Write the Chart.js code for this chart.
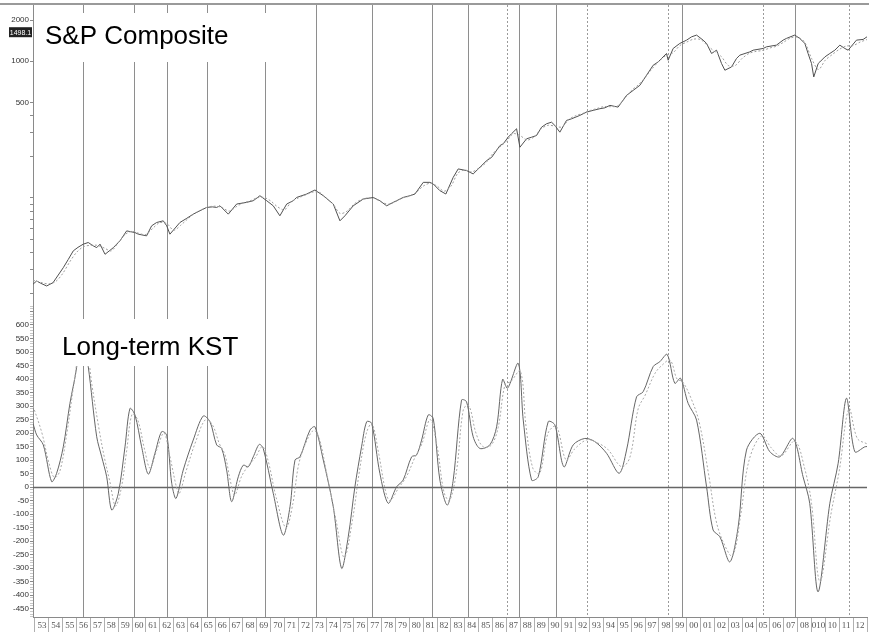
<!DOCTYPE html>
<html>
<head>
<meta charset="utf-8">
<script src="https://cdn.jsdelivr.net/npm/chart.js@4.4.0/dist/chart.umd.min.js"></script>
<style>
  body { margin: 0; background: #fff; }
  #quadro { position: relative; width: 869px; height: 632px; }
  canvas { position: absolute; left: 0; }
</style>
</head>
<body>
<div id="quadro">
  <canvas id="grafico-sp" width="869" height="306" style="top:0"></canvas>
  <canvas id="grafico-kst" width="869" height="327" style="top:305px"></canvas>
</div>
<script>
let chartInstances = {};

// Rótulos do eixo X (anos)
const rotulosAnos = ['53','54','55','56','57','58','59','60','61','62','63','64','65','66','67','68','69',
  '70','71','72','73','74','75','76','77','78','79','80','81','82','83','84','85','86','87','88','89',
  '90','91','92','93','94','95','96','97','98','99','00','01','02','03','04','05','06','07','08','010',
  '10','11','12'];

// Linhas verticais (anos)
const linhasSolidas = [1956.48, 1960.12, 1962.50, 1965.38, 1969.58, 1973.24, 1977.32, 1981.66,
  1984.24, 1987.87, 1990.56, 1999.67, 2007.84];
const linhasTracejadas = [1987.05, 1992.78, 1998.66, 2005.51, 2011.71];

// S&P Composite
const spAnos = [1952.86, 1953.12, 1953.4, 1953.84, 1954.3, 1955.04, 1955.4, 1955.76, 1956.1, 1956.48,
  1956.84, 1957.2, 1957.45, 1957.69, 1958.05, 1958.65, 1959.13, 1959.61, 1960.21, 1960.45, 1961.05,
  1961.41, 1961.77, 1962.25, 1962.5, 1962.73, 1963.45, 1963.9, 1964.41, 1964.9, 1965.38, 1965.8,
  1966.1, 1966.34, 1966.94, 1967.54, 1968.26, 1968.74, 1969.22, 1969.71, 1970.18, 1970.66, 1971.15,
  1971.62, 1971.87, 1972.59, 1973.19, 1973.79, 1974.51, 1974.99, 1975.35, 1975.95, 1976.67, 1977.39,
  1977.87, 1978.36, 1978.83, 1979.08, 1979.55, 1980.04, 1980.4, 1981.0, 1981.48, 1981.72, 1982.2,
  1982.63, 1983.16, 1983.52, 1984.13, 1984.6, 1985.57, 1985.93, 1986.53, 1986.77, 1987.12, 1987.37,
  1987.73, 1987.97, 1988.45, 1988.81, 1989.17, 1989.53, 1989.89, 1990.25, 1990.49, 1990.85, 1991.33,
  1991.69, 1992.29, 1992.77, 1993.25, 1993.74, 1994.1, 1994.46, 1995.05, 1995.66, 1996.14, 1996.62,
  1997.1, 1997.58, 1997.94, 1998.54, 1998.66, 1999.02, 1999.5, 1999.99, 2000.35, 2000.71, 2001.18,
  2001.43, 2001.79, 2002.15, 2002.51, 2002.75, 2003.23, 2003.59, 2003.83, 2004.55, 2004.79, 2005.51,
  2005.75, 2006.47, 2006.95, 2007.19, 2007.79, 2008.15, 2008.52, 2008.75, 2009.0, 2009.16, 2009.48,
  2009.6, 2009.96, 2010.32, 2010.68, 2011.04, 2011.4, 2011.64, 2012.24, 2012.72, 2013.0];
const spValores = [23.4, 24.7, 23.8, 22.7, 24.0, 30.9, 35.5, 41.0, 43.5, 45.9,
  47.2, 44.6, 43.3, 45.9, 38.7, 43.3, 48.6, 57.4, 55.8, 54.3, 52.8,
  62.5, 66.1, 68.0, 62.5, 54.3, 66.1, 70.5, 76.1, 80.6, 85.2, 86.0,
  85.2, 87.6, 76.1, 90.2, 92.8, 95.4, 103.8, 95.4, 87.6, 74.0, 90.2,
  95.4, 100.8, 106.8, 114.3, 103.8, 90.2, 68.0, 74.0, 87.6, 98.1, 100.8,
  95.4, 87.6, 92.8, 95.4, 100.8, 103.8, 106.8, 130, 130, 126.5, 113,
  106.8, 141.4, 163, 158.4, 149.8, 187.5, 198, 241.6, 249, 278, 295,
  320.6, 234.8, 270.7, 278, 286.2, 329, 348.8, 358, 339, 302.6, 368.9,
  379, 401.3, 424.3, 437, 449.4, 456, 475.3, 461.7, 562.7, 612, 666.4,
  789, 934.6, 988, 1139, 1017, 1239, 1349, 1426, 1508, 1552, 1426,
  1349, 1139, 1204, 962, 859, 908, 1047, 1107, 1170, 1204, 1239,
  1274, 1311, 1426, 1468, 1552, 1468, 1349, 1139, 962, 767, 962,
  988, 1075, 1139, 1204, 1311, 1239, 1204, 1426, 1443, 1508];

// Média do S&P (linha pontilhada)
const spMediaAnos = [1952.86, 1953.5, 1954.0, 1954.5, 1955.0, 1955.5, 1956.0, 1956.5, 1957.0, 1957.5,
  1958.0, 1958.5, 1959.0, 1959.5, 1960.0, 1960.5, 1961.0, 1961.5, 1962.0, 1962.5, 1963.0, 1963.5,
  1964.0, 1964.5, 1965.0, 1965.5, 1966.0, 1966.5, 1967.0, 1967.5, 1968.0, 1968.5, 1969.0, 1969.5,
  1970.0, 1970.5, 1971.0, 1971.5, 1972.0, 1972.5, 1973.0, 1973.5, 1974.0, 1974.5, 1975.0, 1975.5,
  1976.0, 1976.5, 1977.0, 1977.5, 1978.0, 1978.5, 1979.0, 1979.5, 1980.0, 1980.5, 1981.0, 1981.5,
  1982.0, 1982.5, 1983.0, 1983.5, 1984.0, 1984.5, 1985.0, 1985.5, 1986.0, 1986.5, 1987.0, 1987.5,
  1988.0, 1988.5, 1989.0, 1989.5, 1990.0, 1990.5, 1991.0, 1991.5, 1992.0, 1992.5, 1993.0, 1993.5,
  1994.0, 1994.5, 1995.0, 1995.5, 1996.0, 1996.5, 1997.0, 1997.5, 1998.0, 1998.5, 1999.0, 1999.5,
  2000.0, 2000.5, 2001.0, 2001.5, 2002.0, 2002.5, 2003.0, 2003.5, 2004.0, 2004.5, 2005.0, 2005.5,
  2006.0, 2006.5, 2007.0, 2007.5, 2008.0, 2008.5, 2009.0, 2009.5, 2010.0, 2010.5, 2011.0, 2011.5,
  2012.0, 2012.5, 2013.0];
const spMediaValores = [25, 24, 23.5, 24.5, 28, 34, 40, 44, 45, 45,
  43, 41, 47, 54, 57, 55, 54, 60, 66, 65, 58, 63,
  70, 77, 82, 86, 87, 85, 80, 86, 92, 95, 100, 101,
  95, 86, 82, 94, 100, 105, 110, 110, 100, 90, 77, 80,
  90, 97, 100, 99, 93, 90, 94, 100, 103, 110, 122, 128,
  122, 112, 122, 152, 160, 155, 165, 180, 210, 235, 260, 295,
  285, 265, 280, 320, 340, 335, 330, 375, 400, 415, 435, 450,
  465, 465, 470, 530, 610, 670, 760, 880, 1000, 1100, 1150, 1300,
  1380, 1450, 1440, 1300, 1180, 1080, 930, 930, 1050, 1140, 1180, 1200,
  1250, 1290, 1380, 1480, 1500, 1380, 1050, 870, 1020, 1120, 1220, 1290,
  1300, 1380, 1440];

const spTicks = [2000, 1000, 500, 400, 300, 200, 100, 90, 80, 70, 60, 50, 40, 30, 20];
const spRotulos = [2000, 1000, 500];
const spUltimo = 1498.1;

// Long-term KST
const kstAnos = [1952.86, 1953.12, 1953.6, 1954.2, 1954.56, 1955.04, 1955.52, 1956.01, 1956.28, 1956.84,
  1957.45, 1957.81, 1958.17, 1958.53, 1959.01, 1959.49, 1959.85, 1960.21, 1960.69, 1961.17, 1961.65,
  1962.13, 1962.5, 1962.86, 1963.17, 1963.69, 1964.41, 1965.13, 1965.62, 1966.1, 1966.46, 1966.82,
  1967.18, 1967.66, 1968.02, 1968.38, 1968.74, 1969.17, 1969.46, 1970.18, 1970.9, 1971.39, 1971.75,
  1972.11, 1972.83, 1973.19, 1973.79, 1974.51, 1975.11, 1975.59, 1976.07, 1976.55, 1976.92, 1977.28,
  1977.87, 1978.47, 1979.08, 1979.55, 1980.16, 1980.52, 1980.88, 1981.36, 1981.72, 1982.2, 1982.73,
  1983.16, 1983.76, 1984.12, 1984.6, 1985.08, 1985.8, 1986.29, 1986.72, 1987.08, 1987.85, 1988.21,
  1988.81, 1989.29, 1990.01, 1990.49, 1991.14, 1991.81, 1992.65, 1993.38, 1994.22, 1995.13, 1995.66,
  1996.38, 1996.86, 1997.58, 1998.06, 1998.59, 1999.14, 1999.55, 2000.1, 2000.71, 2001.43, 2001.9,
  2002.39, 2003.11, 2003.71, 2004.31, 2005.27, 2005.99, 2006.71, 2007.67, 2008.39, 2008.87, 2009.47,
  2010.32, 2010.92, 2011.52, 2012.12, 2012.84, 2013.0];
const kstValores = [235, 193, 156, 20, 51, 149, 310, 446, 620, 446,
  186, 112, 38, -85, -23, 149, 291, 267, 149, 48, 125,
  205, 193, 14, -42, 63, 174, 263, 242, 156, 143, 63,
  -54, 38, 81, 75, 112, 158, 143, -23, -178, -73, 100,
  112, 211, 223, 100, -73, -301, -184, 1, 149, 242, 236,
  51, -60, 1, 26, 112, 119, 174, 267, 254, 26, -67,
  26, 322, 316, 186, 143, 156, 223, 399, 366, 458, 248,
  26, 38, 242, 230, 75, 156, 180, 168, 125, 51, 137,
  334, 353, 446, 464, 491, 384, 403, 310, 248, 1, -159,
  -184, -277, -147, 137, 199, 131, 112, 180, 38, -60, -388,
  -60, 88, 329, 131, 149, 150];

// KST pontilhado (sinal)
const kstSinalAnos = [1952.86, 1953.5, 1954.0, 1954.4, 1954.8, 1955.3, 1955.8, 1956.5, 1957.1, 1957.6,
  1958.0, 1958.4, 1958.8, 1959.2, 1959.6, 1960.0, 1960.4, 1960.9, 1961.3, 1961.8, 1962.3, 1962.7,
  1963.2, 1963.4, 1963.9, 1964.6, 1965.3, 1965.8, 1966.3, 1966.7, 1967.1, 1967.4, 1967.9, 1968.4,
  1968.9, 1969.4, 1969.8, 1970.4, 1971.1, 1971.6, 1972.0, 1972.5, 1973.1, 1973.5, 1974.0, 1974.7,
  1975.3, 1975.9, 1976.4, 1976.9, 1977.3, 1977.8, 1978.3, 1978.6, 1979.2, 1979.8, 1980.4, 1980.9,
  1981.5, 1982.0, 1982.5, 1982.9, 1983.4, 1983.9, 1984.3, 1984.8, 1985.3, 1985.9, 1986.4, 1986.9,
  1987.3, 1988.0, 1988.4, 1988.9, 1989.4, 1990.0, 1990.6, 1991.3, 1991.9, 1992.8, 1993.5, 1994.3,
  1995.3, 1995.9, 1996.5, 1997.0, 1997.7, 1998.2, 1998.8, 1999.3, 1999.7, 2000.3, 2000.9, 2001.6,
  2002.1, 2002.6, 2003.3, 2003.9, 2004.5, 2005.4, 2006.1, 2006.8, 2007.8, 2008.5, 2009.0, 2009.6,
  2010.4, 2011.0, 2011.7, 2012.3, 2013.0];
const kstSinalValores = [300, 200, 90, 35, 60, 200, 380, 600, 380, 220,
  110, 20, -70, -10, 130, 270, 250, 140, 70, 140, 200, 120,
  0, -25, 60, 170, 250, 230, 160, 120, 20, -30, 40, 80,
  110, 150, 100, -40, -150, -60, 80, 160, 210, 180, 60, -120,
  -260, -120, 60, 200, 235, 120, -20, -50, -5, 40, 110, 160,
  250, 150, -20, -50, 60, 290, 300, 200, 150, 155, 220, 380,
  390, 430, 230, 70, 50, 200, 225, 100, 140, 175, 165, 140,
  75, 110, 290, 340, 420, 450, 470, 400, 390, 330, 240, 40,
  -120, -200, -255, -100, 100, 190, 145, 115, 170, 70, -60, -350,
  -100, 60, 290, 180, 160];

const kstRotulos = [600, 550, 500, 450, 400, 350, 300, 250, 200, 150, 100, 50, 0,
  -50, -100, -150, -200, -250, -300, -350, -400, -450];

function pontos(anos, valores) {
  return anos.map((a, i) => ({ x: a, y: valores[i] }));
}

const fonteEixo = { family: 'Liberation Sans Narrow, Liberation Sans, Arial', size: 8 };

// tira o espaço extra que o Chart.js reserva para o primeiro/último rótulo
function semFolgaVertical(scale, largura) {
  scale.width = largura;
  scale.paddingTop = 0;
  scale.paddingBottom = 0;
}

// Linhas verticais, moldura e caixas de título
const decoracao = {
  id: 'decoracao',
  beforeDatasetsDraw(chart, args, opts) {
    const { ctx, chartArea, scales } = chart;
    ctx.save();
    ctx.lineWidth = 1;
    ctx.strokeStyle = '#8e8e8e';
    linhasSolidas.forEach(ano => {
      const x = Math.round(scales.x.getPixelForValue(ano)) + 0.5;
      ctx.beginPath();
      ctx.moveTo(x, chartArea.top);
      ctx.lineTo(x, chartArea.bottom);
      ctx.stroke();
    });
    ctx.strokeStyle = '#9a9a9a';
    ctx.setLineDash([2, 2]);
    linhasTracejadas.forEach(ano => {
      const x = Math.round(scales.x.getPixelForValue(ano)) + 0.5;
      ctx.beginPath();
      ctx.moveTo(x, chartArea.top);
      ctx.lineTo(x, chartArea.bottom);
      ctx.stroke();
    });
    ctx.setLineDash([]);
    if (opts.linhaZero) {
      const y = Math.round(scales.y.getPixelForValue(0)) + 0.5;
      ctx.strokeStyle = '#666';
      ctx.lineWidth = 1.5;
      ctx.beginPath();
      ctx.moveTo(chartArea.left, y);
      ctx.lineTo(chartArea.right, y);
      ctx.stroke();
    }
    if (opts.moldura) {
      ctx.strokeStyle = '#9a9a9a';
      ctx.lineWidth = 2;
      ctx.beginPath();
      ctx.moveTo(0, chartArea.top - 1);
      ctx.lineTo(chart.width, chartArea.top - 1);
      ctx.stroke();
    }
    ctx.restore();
  },
  afterDraw(chart, args, opts) {
    const { ctx, scales } = chart;
    ctx.save();
    const c = opts.caixa;
    ctx.fillStyle = '#fff';
    ctx.fillRect(c.x, c.y, c.w, c.h);
    ctx.fillStyle = '#000';
    ctx.font = '26px "Liberation Sans", Arial, sans-serif';
    ctx.textBaseline = 'alphabetic';
    ctx.fillText(c.texto, c.tx, c.ty);
    if (opts.ultimo) {
      const y = scales.y.getPixelForValue(opts.ultimo) - 5;
      ctx.fillStyle = '#222';
      ctx.fillRect(9, y - 5, 23, 10);
      ctx.fillStyle = '#fff';
      ctx.font = '7px "Liberation Sans Narrow", "Liberation Sans", Arial';
      ctx.textAlign = 'center';
      ctx.textBaseline = 'middle';
      ctx.fillText(String(opts.ultimo), 20.5, y + 0.5);
    }
    ctx.restore();
  }
};

const eixoX = {
  type: 'linear',
  min: 1952.856,
  max: 2013.0,
  afterBuildTicks: (scale) => {
    scale.ticks = rotulosAnos.map((r, i) => ({ value: 1953 + i })).concat([{ value: 2013 }]);
  }
};

function inserirGraficos() {
  // Gráfico de cima: S&P Composite (escala logarítmica)
  chartInstances['grafico-sp'] = new Chart(document.getElementById('grafico-sp').getContext('2d'), {
    type: 'line',
    data: {
      datasets: [{
        data: pontos(spMediaAnos, spMediaValores),
        borderColor: '#9d9d9d',
        borderWidth: 1,
        borderDash: [2, 2],
        tension: 0.3
      }, {
        data: pontos(spAnos, spValores),
        borderColor: '#505050',
        borderWidth: 1,
        tension: 0
      }]
    },
    options: {
      responsive: false,
      animation: false,
      layout: { padding: { top: 5, right: 2, left: 0, bottom: 0 } },
      elements: { point: { radius: 0 } },
      plugins: {
        legend: { display: false },
        tooltip: { enabled: false },
        decoracao: {
          moldura: true,
          ultimo: spUltimo,
          caixa: { x: 35, y: 13, w: 242, h: 49, texto: 'S&P Composite', tx: 45, ty: 44 }
        }
      },
      scales: {
        x: Object.assign({ display: false }, eixoX),
        y: {
          type: 'logarithmic',
          min: 16.2,
          max: 2577,
          afterFit: (scale) => semFolgaVertical(scale, 33),
          afterBuildTicks: (scale) => { scale.ticks = spTicks.map(v => ({ value: v })); },
          border: { color: '#8a8a8a', width: 1 },
          grid: { drawOnChartArea: false, tickLength: 3, color: '#8a8a8a' },
          ticks: {
            font: fonteEixo,
            color: '#333',
            padding: 1,
            autoSkip: false,
            callback: (v) => spRotulos.includes(v) ? String(v) : ''
          }
        }
      }
    },
    plugins: [decoracao]
  });

  // Gráfico de baixo: Long-term KST
  chartInstances['grafico-kst'] = new Chart(document.getElementById('grafico-kst').getContext('2d'), {
    type: 'line',
    data: {
      datasets: [{
        data: pontos(kstSinalAnos, kstSinalValores),
        borderColor: '#a8a8a8',
        borderWidth: 1,
        borderDash: [2, 2],
        tension: 0.35
      }, {
        data: pontos(kstAnos, kstValores),
        borderColor: '#666',
        borderWidth: 1,
        tension: 0.3
      }]
    },
    options: {
      responsive: false,
      animation: false,
      layout: { padding: { top: 0, right: 2, left: 0, bottom: 0 } },
      elements: { point: { radius: 0 } },
      plugins: {
        legend: { display: false },
        tooltip: { enabled: false },
        decoracao: {
          linhaZero: true,
          caixa: { x: 35, y: 14, w: 205, h: 47, texto: 'Long-term KST', tx: 62, ty: 50 }
        }
      },
      scales: {
        x: Object.assign({
          afterFit: (scale) => { scale.height = 15; },
          border: { color: '#8a8a8a', width: 1 },
          grid: { drawOnChartArea: false, tickLength: 15, color: '#b0b0b0' },
          ticks: {
            font: { family: 'Liberation Serif, Times New Roman, serif', size: 9 },
            color: '#555',
            padding: -12,
            labelOffset: 6.93,
            autoSkip: false,
            maxRotation: 0,
            minRotation: 0,
            callback: (v) => rotulosAnos[Math.round(v) - 1953] || ''
          }
        }, eixoX),
        y: {
          type: 'linear',
          min: -481,
          max: 674,
          afterFit: (scale) => semFolgaVertical(scale, 33),
          afterBuildTicks: (scale) => {
            const t = [];
            for (let v = 670; v >= -480; v -= 10) t.push({ value: v });
            scale.ticks = t;
          },
          border: { color: '#8a8a8a', width: 1 },
          grid: {
            drawOnChartArea: false,
            tickLength: 3,
            color: (c) => (c.tick && c.tick.value % 50 === 0) ? '#8a8a8a' : '#c8c8c8'
          },
          ticks: {
            font: fonteEixo,
            color: '#333',
            padding: 1,
            autoSkip: false,
            callback: (v) => kstRotulos.includes(v) ? String(v) : ''
          }
        }
      }
    },
    plugins: [decoracao]
  });
}

window.onload = function () {
  inserirGraficos();
};
</script>
</body>
</html>
